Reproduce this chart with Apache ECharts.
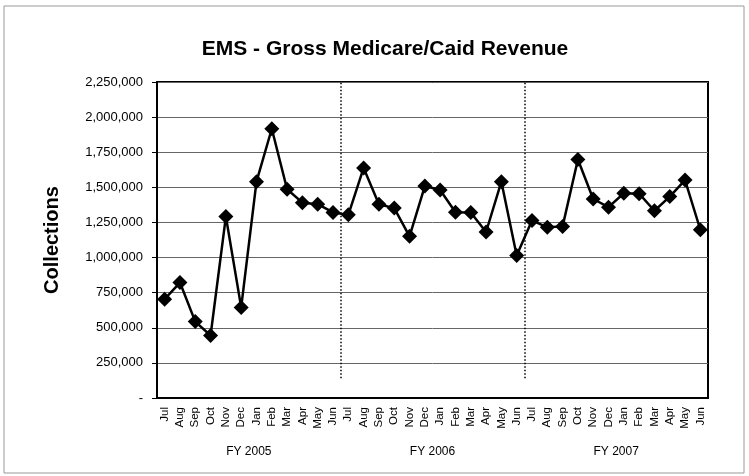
<!DOCTYPE html>
<html>
<head>
<meta charset="utf-8">
<script src="https://cdn.jsdelivr.net/npm/echarts@6/dist/echarts.min.js"></script>
<style>
  html, body { margin: 0; padding: 0; background: #fff; }
  #chart { width: 749px; height: 476px; }
</style>
</head>
<body>
<div id="chart"></div>
<script>
// data
const months = ['Jul', 'Aug', 'Sep', 'Oct', 'Nov', 'Dec', 'Jan', 'Feb', 'Mar', 'Apr', 'May', 'Jun']
const fiscalYears = ['FY 2005', 'FY 2006', 'FY 2007']
const collections = [
  704000, 822000, 544000, 445000, 1292000, 645000, 1540000, 1917000, 1486000, 1391000, 1380000, 1321000,
  1304000, 1638000, 1380000, 1352000, 1151000, 1509000, 1481000, 1323000, 1321000, 1182000, 1540000, 1015000,
  1264000, 1215000, 1222000, 1698000, 1417000, 1359000, 1458000, 1455000, 1333000, 1434000, 1552000, 1198000
]
const yMax = 2250000
const yStep = 250000
const separatorFrom = 140000

const categories = []
fiscalYears.forEach(() => months.forEach(m => categories.push(m)))

const font = 'Liberation Sans, Arial, sans-serif'
const chart = echarts.init(document.getElementById('chart'))

// dotted lines between fiscal years
const separators = []
for (let i = 1; i < fiscalYears.length; i++) {
  const x = i * months.length
  separators.push([{ coord: [x, separatorFrom] }, { coord: [x, yMax] }])
}

const option = {
  backgroundColor: '#fff',
  animation: false,
  title: {
    text: 'EMS - Gross Medicare/Caid Revenue',
    left: 380,
    top: 34,
    textAlign: 'center',
    textStyle: { fontFamily: font, fontSize: 21, fontWeight: 'bold', color: '#000' }
  },
  graphic: [{
    type: 'rect',
    shape: { x: 4, y: 6, width: 740, height: 467 },
    style: { fill: 'none', stroke: '#999', lineWidth: 1 },
    silent: true
  }],
  grid: {
    left: 157,
    right: 41,
    top: 82,
    bottom: 78,
    show: true,
    borderColor: '#000',
    borderWidth: 2
  },
  xAxis: [{
    type: 'category',
    data: categories,
    boundaryGap: true,
    axisLine: { lineStyle: { color: '#000', width: 2 } },
    axisTick: { show: false },
    axisLabel: {
      interval: 0,
      rotate: 90,
      margin: 9,
      fontFamily: font,
      fontSize: 11.5,
      color: '#000'
    }
  }, {
    type: 'category',
    data: fiscalYears,
    position: 'bottom',
    offset: 40,
    axisLine: { show: false },
    axisTick: { show: false },
    axisLabel: { fontFamily: font, fontSize: 12, color: '#000' }
  }, {
    type: 'value',
    min: 0,
    max: categories.length,
    show: false
  }],
  yAxis: {
    type: 'value',
    min: 0,
    max: yMax,
    interval: yStep,
    name: 'Collections',
    nameLocation: 'middle',
    nameGap: 95,
    nameTextStyle: { fontFamily: font, fontSize: 20, fontWeight: 'bold', color: '#000' },
    axisLine: { show: true, lineStyle: { color: '#000', width: 2 } },
    axisTick: { show: true, length: 5, lineStyle: { color: '#000' } },
    axisLabel: {
      margin: 14,
      fontFamily: font,
      fontSize: 13,
      color: '#000',
      formatter: v => v === 0 ? '-' : v.toLocaleString('en-US')
    },
    splitLine: { lineStyle: { color: '#666', width: 1 } }
  },
  series: [{
    name: 'Collections',
    type: 'line',
    data: collections,
    symbol: 'diamond',
    symbolSize: 15,
    lineStyle: { color: '#000', width: 2.5 },
    itemStyle: { color: '#000' },
    z: 5
  }, {
    name: 'separators',
    type: 'line',
    xAxisIndex: 2,
    data: [],
    markLine: {
      silent: true,
      symbol: 'none',
      label: { show: false },
      lineStyle: { color: '#000', width: 1.5, type: [1.5, 2] },
      data: separators
    }
  }]
}

chart.setOption(option)
</script>
</body>
</html>
